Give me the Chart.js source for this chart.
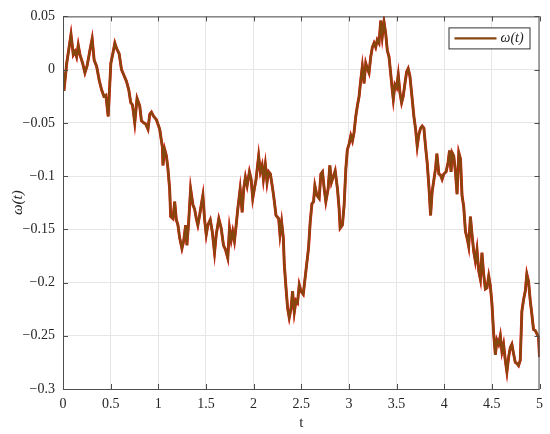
<!DOCTYPE html>
<html>
<head>
<meta charset="utf-8">
<script src="https://cdn.jsdelivr.net/npm/chart.js@4.4.0/dist/chart.umd.min.js"></script>
<style>
  html, body { margin: 0; padding: 0; background: #fff; }
  #wrap { width: 550px; height: 434px; }
</style>
</head>
<body>
<div id="wrap"><canvas id="chart" width="550" height="434"></canvas></div>
<script>
const tValues = [
  0, 0.010, 0.039, 0.084, 0.108, 0.126, 0.143, 0.160, 0.178, 0.206,
  0.230, 0.254, 0.282, 0.306, 0.327, 0.353, 0.380, 0.405, 0.429, 0.450,
  0.474, 0.502, 0.523, 0.544, 0.562, 0.589, 0.614, 0.638, 0.666, 0.690,
  0.711, 0.729, 0.753, 0.777, 0.805, 0.823, 0.847, 0.868, 0.892, 0.910,
  0.928, 0.952, 0.980, 1.015, 1.043, 1.049, 1.067, 1.085, 1.101, 1.119,
  1.130, 1.154, 1.172, 1.189, 1.206, 1.224, 1.248, 1.266, 1.287, 1.300,
  1.318, 1.339, 1.363, 1.381, 1.399, 1.415, 1.433, 1.451, 1.468, 1.485,
  1.503, 1.520, 1.545, 1.566, 1.590, 1.608, 1.635, 1.660, 1.684, 1.705,
  1.729, 1.747, 1.765, 1.781, 1.799, 1.817, 1.834, 1.859, 1.880, 1.896,
  1.914, 1.932, 1.956, 1.974, 1.991, 2.008, 2.026, 2.053, 2.071, 2.089,
  2.103, 2.123, 2.141, 2.158, 2.176, 2.200, 2.218, 2.235, 2.263, 2.277,
  2.294, 2.312, 2.322, 2.340, 2.357, 2.374, 2.392, 2.409, 2.427, 2.445,
  2.461, 2.479, 2.497, 2.521, 2.549, 2.576, 2.594, 2.612, 2.629, 2.643,
  2.664, 2.688, 2.706, 2.723, 2.741, 2.758, 2.782, 2.800, 2.817, 2.835,
  2.856, 2.880, 2.897, 2.908, 2.932, 2.950, 2.968, 2.984, 3.002, 3.020,
  3.037, 3.054, 3.072, 3.089, 3.107, 3.124, 3.141, 3.159, 3.177, 3.194,
  3.211, 3.229, 3.246, 3.264, 3.281, 3.298, 3.316, 3.334, 3.350, 3.368,
  3.386, 3.403, 3.421, 3.438, 3.455, 3.466, 3.483, 3.501, 3.518, 3.536,
  3.553, 3.570, 3.588, 3.606, 3.622, 3.640, 3.658, 3.682, 3.700, 3.717,
  3.734, 3.752, 3.769, 3.787, 3.804, 3.821, 3.839, 3.857, 3.873, 3.891,
  3.909, 3.923, 3.944, 3.961, 3.978, 3.996, 4.020, 4.041, 4.056, 4.072,
  4.083, 4.100, 4.118, 4.135, 4.153, 4.171, 4.187, 4.205, 4.223, 4.240,
  4.257, 4.275, 4.292, 4.310, 4.327, 4.344, 4.362, 4.380, 4.396, 4.414,
  4.432, 4.449, 4.467, 4.484, 4.501, 4.519, 4.537, 4.553, 4.571, 4.589,
  4.606, 4.623, 4.641, 4.658, 4.676, 4.694, 4.710, 4.728, 4.746, 4.763,
  4.780, 4.798, 4.815, 4.833, 4.851, 4.867, 4.885, 4.903, 4.920, 4.937,
  4.955, 4.972, 4.990, 5.000
];
const omegaValues = [
  -0.003, -0.020, 0.006, 0.033, 0.014, 0.017, 0.012, 0.023, 0.014, 0.006,
  -0.003, 0.004, 0.018, 0.029, 0.009, 0.003, -0.010, -0.019, -0.025, -0.024,
  -0.044, 0.006, 0.015, 0.025, 0.020, 0.015, 0.000, -0.005, -0.011, -0.019,
  -0.031, -0.033, -0.050, -0.027, -0.034, -0.048, -0.050, -0.051, -0.056, -0.042,
  -0.040, -0.044, -0.047, -0.056, -0.073, -0.090, -0.075, -0.081, -0.093, -0.112,
  -0.138, -0.140, -0.124, -0.141, -0.146, -0.158, -0.168, -0.161, -0.146, -0.165,
  -0.144, -0.112, -0.127, -0.131, -0.140, -0.146, -0.137, -0.127, -0.118, -0.140,
  -0.155, -0.146, -0.141, -0.152, -0.172, -0.155, -0.140, -0.149, -0.165, -0.169,
  -0.177, -0.149, -0.160, -0.152, -0.161, -0.146, -0.131, -0.112, -0.134, -0.112,
  -0.101, -0.109, -0.096, -0.103, -0.121, -0.112, -0.103, -0.081, -0.096, -0.090,
  -0.103, -0.089, -0.106, -0.096, -0.098, -0.112, -0.124, -0.137, -0.140, -0.155,
  -0.143, -0.158, -0.183, -0.205, -0.224, -0.233, -0.225, -0.208, -0.228, -0.217,
  -0.219, -0.202, -0.208, -0.211, -0.189, -0.168, -0.143, -0.126, -0.124, -0.109,
  -0.118, -0.121, -0.098, -0.096, -0.112, -0.124, -0.112, -0.090, -0.106, -0.101,
  -0.095, -0.112, -0.130, -0.149, -0.146, -0.127, -0.093, -0.075, -0.070, -0.062,
  -0.067, -0.059, -0.044, -0.034, -0.025, -0.010, 0.003, -0.013, 0.006, 0.001,
  -0.003, 0.012, 0.021, 0.025, 0.021, 0.028, 0.025, 0.046, 0.031, 0.045,
  0.034, 0.018, 0.012, -0.003, -0.019, -0.028, -0.014, -0.017, -0.005, -0.022,
  -0.031, -0.025, -0.013, -0.002, 0.001, -0.006, -0.022, -0.044, -0.056, -0.072,
  -0.061, -0.055, -0.053, -0.055, -0.072, -0.087, -0.109, -0.137, -0.115, -0.104,
  -0.093, -0.079, -0.098, -0.099, -0.103, -0.098, -0.096, -0.087, -0.076, -0.096,
  -0.078, -0.081, -0.096, -0.117, -0.078, -0.084, -0.118, -0.129, -0.152, -0.158,
  -0.166, -0.138, -0.155, -0.171, -0.180, -0.169, -0.189, -0.197, -0.172, -0.192,
  -0.206, -0.205, -0.194, -0.203, -0.220, -0.248, -0.268, -0.254, -0.258, -0.250,
  -0.265, -0.258, -0.273, -0.284, -0.270, -0.261, -0.258, -0.267, -0.275, -0.276,
  -0.278, -0.273, -0.227, -0.216, -0.208, -0.192, -0.199, -0.217, -0.230, -0.244,
  -0.245, -0.248, -0.251, -0.270
];
const xTicks = [0, 0.5, 1, 1.5, 2, 2.5, 3, 3.5, 4, 4.5, 5];
const yTicks = [0.05, 0, -0.05, -0.1, -0.15, -0.2, -0.25, -0.3];
const yTickLabels = ['0.05', '0', '\u22120.05', '\u22120.1', '\u22120.15', '\u22120.2', '\u22120.25', '\u22120.3'];
const seriesLabel = '\u03c9(t)';

const points = tValues.map((t, i) => ({ x: t, y: omegaValues[i] }));
const brown = '#86470f';
const axisColor = '#4d4d4d';
const serif = "'Liberation Serif', 'DejaVu Serif', serif";

// box round the plot, inward ticks on all four sides, and the boxed legend
const boxPlugin = {
  id: 'boxPlugin',
  afterDraw(chart) {
    const { ctx, chartArea: a, scales } = chart;
    ctx.save();
    ctx.strokeStyle = axisColor;
    ctx.lineWidth = 1;
    ctx.strokeRect(a.left + 0.5, a.top + 0.5, a.right - a.left - 1, a.bottom - a.top);
    ctx.beginPath();
    xTicks.forEach(v => {
      const x = Math.round(scales.x.getPixelForValue(v)) + 0.5;
      ctx.moveTo(x, a.bottom); ctx.lineTo(x, a.bottom - 5);
      ctx.moveTo(x, a.top); ctx.lineTo(x, a.top + 5);
    });
    yTicks.forEach(v => {
      const y = Math.round(scales.y.getPixelForValue(v)) + 0.5;
      ctx.moveTo(a.left, y); ctx.lineTo(a.left + 5, y);
      ctx.moveTo(a.right, y); ctx.lineTo(a.right - 5, y);
    });
    ctx.stroke();

    // legend
    const lx = a.right - 91, ly = a.top + 11, lw = 81, lh = 21;
    ctx.fillStyle = '#fff';
    ctx.fillRect(lx, ly, lw, lh);
    ctx.strokeStyle = '#333';
    ctx.strokeRect(lx + 0.5, ly + 0.5, lw, lh);
    ctx.strokeStyle = brown;
    ctx.lineWidth = 2.3;
    ctx.beginPath();
    ctx.moveTo(lx + 6, ly + 11); ctx.lineTo(lx + 48, ly + 11);
    ctx.stroke();
    ctx.fillStyle = '#222';
    ctx.font = 'italic 14px ' + serif;
    ctx.textBaseline = 'middle';
    ctx.fillText(seriesLabel, lx + 52, ly + 11);
    ctx.restore();
  }
};

new Chart(document.getElementById('chart'), {
  type: 'line',
  data: {
    datasets: [
      {
        label: seriesLabel,
        data: points,
        borderColor: brown,
        borderWidth: 2.3,
        pointRadius: 0,
        tension: 0,
        order: 0
      },
      {
        label: 'red',
        data: points,
        borderColor: '#e81010',
        borderWidth: 2.9,
        pointRadius: 0,
        tension: 0,
        order: 1
      }
    ]
  },
  options: {
    responsive: false,
    animation: false,
    layout: { padding: { left: 0, right: 9, top: 12, bottom: 0 } },
    plugins: { legend: { display: false }, tooltip: { enabled: false } },
    scales: {
      x: {
        type: 'linear',
        min: 0, max: 5,
        afterBuildTicks: s => { s.ticks = xTicks.map(v => ({ value: v })); },
        afterFit: s => { s.height = 45; },
        grid: { color: '#e6e6e6', drawTicks: false },
        border: { display: false },
        ticks: { padding: 7, color: '#262626', font: { family: serif, size: 14 }, maxRotation: 0,
          callback: v => String(v) },
        title: { display: true, text: 't', color: '#262626', font: { family: serif, size: 15 }, padding: { top: 0, bottom: 2 } }
      },
      y: {
        min: -0.3, max: 0.05,
        afterBuildTicks: s => { s.ticks = yTicks.map(v => ({ value: v })); },
        afterFit: s => { s.width = 63; },
        grid: { color: '#e6e6e6', drawTicks: false },
        border: { display: false },
        ticks: { padding: 8, color: '#262626', font: { family: serif, size: 14 },
          callback: (v) => yTickLabels[yTicks.findIndex(t => Math.abs(t - v) < 1e-9)] },
        title: { display: true, text: seriesLabel, color: '#262626', font: { family: serif, size: 15, style: 'italic' }, padding: { top: 9, bottom: 0 } }
      }
    }
  },
  plugins: [boxPlugin]
});
</script>
</body>
</html>
